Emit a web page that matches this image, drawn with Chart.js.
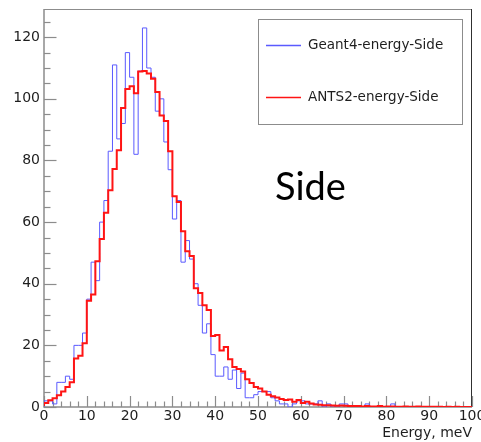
<!DOCTYPE html>
<html>
<head>
<meta charset="utf-8">
<script src="https://cdn.jsdelivr.net/npm/chart.js@4/dist/chart.umd.min.js"></script>
<style>
  html, body { margin: 0; padding: 0; background: #ffffff; }
  #wrap { position: relative; width: 481px; height: 442px; }
</style>
</head>
<body>
<div id="wrap"><canvas id="chart" width="481" height="442"></canvas></div>
<script>
// Histogram binning: 100 bins of 1 meV between 0 and 100 meV
const energyMin = 0;
const energyMax = 100;
const binCount = 100;

// Bin contents, Geant4 simulation (side detector)
const geant4Side = [
  0, 2, 2, 1, 8, 8, 10, 9, 20, 20,
  24, 35, 47, 41, 60, 67, 83, 111, 87, 92,
  115, 107, 82, 109, 123, 110, 107, 96, 100, 86,
  77, 61, 67, 47, 54, 48, 40, 33, 24, 27,
  17, 10, 10, 13, 9, 12, 6, 11, 3, 3,
  4, 5, 5, 5, 3, 2, 1, 1, 0, 1,
  2, 2, 1, 1, 1, 2, 0, 1, 0, 0,
  1, 1, 0, 0, 0, 0, 1, 0, 0, 0,
  0, 0, 1, 0, 0, 0, 0, 0, 0, 0,
  0, 0, 0, 0, 0, 0, 0, 0, 0, 0
];

// Bin contents, ANTS2 simulation (side detector)
const ants2Side = [
  0.3, 1.3, 2.2, 2.8, 3.8, 5.0, 6.5, 8.0, 15.7, 16.6,
  20.7, 34.5, 36.5, 47.3, 54.5, 63.0, 70.3, 77.2, 83.3, 97.0,
  103.2, 104.1, 101.8, 108.9, 109.0, 108.2, 106.5, 102.2, 94.6, 92.8,
  83.0, 68.4, 66.5, 57.0, 50.5, 49.0, 38.5, 37.0, 33.0, 31.5,
  23.0, 23.4, 18.3, 19.5, 15.5, 13.0, 12.3, 11.5, 9.0, 7.8,
  6.5, 6.0, 5.0, 4.0, 3.5, 3.1, 2.6, 2.3, 2.4, 1.7,
  2.3, 1.3, 1.7, 1.1, 0.8, 0.7, 0.6, 0.6, 0.5, 0.4,
  0.5, 0.4, 0.3, 0.3, 0.3, 0.2, 0.3, 0.2, 0.2, 0.3,
  0.1, 0.2, 0.2, 0.1, 0.1, 0.2, 0.1, 0.1, 0.2, 0.1,
  0.1, 0.1, 0.1, 0.1, 0.0, 0.1, 0.0, 0.1, 0.0, 0.0
];

const seriesNames = ['Geant4-energy-Side', 'ANTS2-energy-Side'];
const seriesColors = ['#5a5aff', '#ff1414'];
const panelLabel = 'Side';
const xAxisTitle = 'Energy, meV';
const yAxisMax = 129.15;            // 1.05 x the tallest bin
const xMajorStep = 10, xMinorStep = 2;
const yMajorStep = 20, yMinorStep = 5;

// Turn bin contents into step-line points (left edge of each bin, plus the closing edge)
function histogramPoints(values) {
  const width = (energyMax - energyMin) / binCount;
  const pts = values.map((v, i) => ({ x: energyMin + i * width, y: v }));
  pts.push({ x: energyMax, y: values[values.length - 1] });
  return pts;
}

const axisFont = { family: 'DejaVu Sans', size: 14 };
const textColor = '#1e1e1e';
const frameColor = '#8c8c8c';

// Frame, inward ticks and the axis lines, ROOT style
const frameTicks = {
  id: 'frameTicks',
  beforeDatasetsDraw(chart) {
    const { ctx, chartArea: a, scales: { x, y } } = chart;
    ctx.save();
    ctx.lineWidth = 1;
    // top and right border of the frame
    ctx.strokeStyle = frameColor;
    ctx.beginPath();
    ctx.moveTo(a.left, a.top + 0.5);
    ctx.lineTo(a.right, a.top + 0.5);
    ctx.stroke();
    ctx.strokeStyle = '#303030';
    ctx.beginPath();
    ctx.moveTo(a.right - 0.5, a.top);
    ctx.lineTo(a.right - 0.5, a.bottom);
    ctx.stroke();
    // axis lines
    ctx.strokeStyle = frameColor;
    ctx.lineWidth = 1.5;
    ctx.beginPath();
    ctx.moveTo(a.left, a.top);
    ctx.lineTo(a.left, a.bottom);
    ctx.lineTo(a.right, a.bottom);
    ctx.stroke();
    // y ticks
    ctx.lineWidth = 1.2;
    for (let v = 0; v <= yAxisMax; v += yMinorStep) {
      const py = Math.round(y.getPixelForValue(v)) + 0.5;
      const len = (v % yMajorStep === 0) ? 12.5 : 6.5;
      ctx.beginPath();
      ctx.moveTo(a.left, py);
      ctx.lineTo(a.left + len, py);
      ctx.stroke();
    }
    // x ticks
    for (let v = energyMin; v <= energyMax; v += xMinorStep) {
      const px = Math.round(x.getPixelForValue(v)) + 0.5;
      const len = (v % xMajorStep === 0) ? 11 : 5.5;
      ctx.beginPath();
      ctx.moveTo(px, a.bottom);
      ctx.lineTo(px, a.bottom - len);
      ctx.stroke();
    }
    ctx.restore();
  }
};

// Boxed legend in the upper right and the panel caption
const legendBox = {
  id: 'legendBox',
  afterDraw(chart) {
    const { ctx } = chart;
    const ds = chart.data.datasets;
    ctx.save();
    const bx = 258.5, by = 19.5, bw = 204, bh = 105;
    ctx.fillStyle = '#ffffff';
    ctx.fillRect(bx, by, bw, bh);
    ctx.strokeStyle = '#8c8c8c';
    ctx.lineWidth = 1;
    ctx.strokeRect(bx, by, bw, bh);
    const rows = [45, 97];
    ds.forEach((d, i) => {
      const ry = rows[i] + 0.5;
      ctx.strokeStyle = seriesColors[i];
      ctx.lineWidth = 1.4;
      ctx.beginPath();
      ctx.moveTo(266, ry);
      ctx.lineTo(301, ry);
      ctx.stroke();
      ctx.fillStyle = textColor;
      ctx.font = '13.5px "DejaVu Sans"';
      ctx.textBaseline = 'middle';
      ctx.textAlign = 'left';
      ctx.fillText(d.label, 308, rows[i]);
    });
    ctx.fillStyle = '#000000';
    ctx.font = '38px Lato';
    ctx.textBaseline = 'alphabetic';
    ctx.fillText(panelLabel, 275, 200);
    ctx.restore();
  }
};

new Chart(document.getElementById('chart').getContext('2d'), {
  type: 'line',
  data: {
    datasets: [
      {
        label: seriesNames[0],
        data: histogramPoints(geant4Side),
        stepped: 'after',
        borderColor: seriesColors[0],
        borderWidth: 1,
        pointRadius: 0,
        fill: false,
        order: 1
      },
      {
        label: seriesNames[1],
        data: histogramPoints(ants2Side),
        stepped: 'after',
        borderColor: seriesColors[1],
        borderWidth: 2,
        pointRadius: 0,
        fill: false,
        order: 0
      }
    ]
  },
  options: {
    responsive: false,
    animation: false,
    devicePixelRatio: 1,
    layout: { padding: { top: 9, right: 9, left: 0, bottom: 0 } },
    plugins: { legend: { display: false }, tooltip: { enabled: false } },
    scales: {
      x: {
        type: 'linear',
        min: energyMin,
        max: energyMax,
        grid: { display: false, drawTicks: false },
        border: { display: false },
        ticks: { stepSize: xMajorStep, font: axisFont, color: textColor, padding: 1, maxRotation: 0, autoSkip: false, includeBounds: false },
        title: { display: true, text: xAxisTitle, align: 'end', font: axisFont, color: textColor, padding: 0 },
        afterFit(scale) { scale.height = 35; scale.paddingLeft = 0; scale.paddingRight = 0; }
      },
      y: {
        type: 'linear',
        min: 0,
        max: yAxisMax,
        grid: { display: false, drawTicks: false },
        border: { display: false },
        ticks: { stepSize: yMajorStep, font: axisFont, color: textColor, padding: 4, includeBounds: false },
        afterFit(scale) { scale.width = 44; scale.paddingTop = 0; scale.paddingBottom = 0; }
      }
    }
  },
  plugins: [frameTicks, legendBox]
});
</script>
</body>
</html>
